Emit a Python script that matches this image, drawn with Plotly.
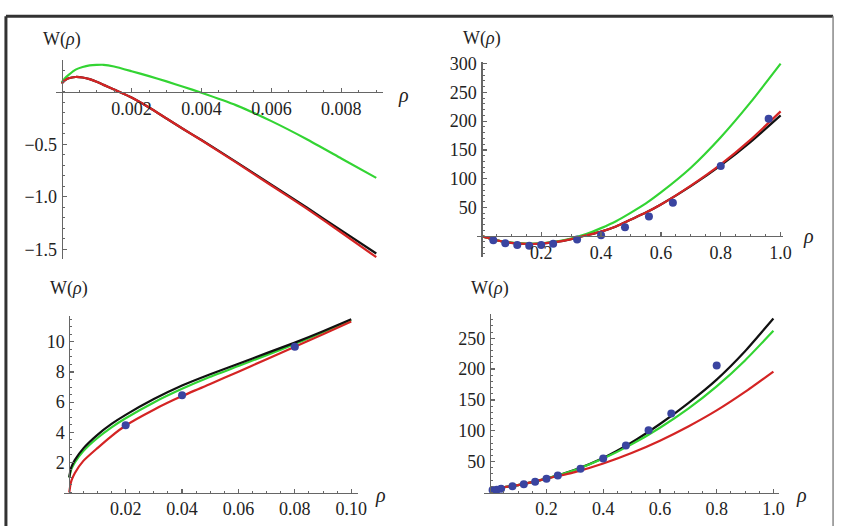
import plotly.graph_objects as go

# ---------------- data ----------------
# Panel 1 (top-left)
p1_rho = [0, 0.0001, 0.0002, 0.0004, 0.0006, 0.0008, 0.001, 0.0012, 0.0015, 0.002,
          0.0025, 0.003, 0.0035, 0.004, 0.005, 0.006, 0.007, 0.008, 0.009]
p1_black = [0.078, 0.11, 0.128, 0.14, 0.135, 0.12, 0.095, 0.065, 0.02, -0.055,
            -0.15, -0.255, -0.36, -0.46, -0.67, -0.885, -1.10, -1.32, -1.54]
p1_red = [0.078, 0.11, 0.128, 0.14, 0.135, 0.12, 0.095, 0.065, 0.02, -0.055,
          -0.15, -0.255, -0.36, -0.462, -0.675, -0.893, -1.11, -1.34, -1.575]
p1_green = [0.087, 0.13, 0.16, 0.21, 0.235, 0.25, 0.255, 0.256, 0.24, 0.195,
            0.148, 0.098, 0.045, -0.01, -0.13, -0.28, -0.45, -0.635, -0.82]

# Panel 2 (top-right)
p2_rho = [0, 0.05, 0.1, 0.15, 0.2, 0.25, 0.3, 0.35, 0.4, 0.45, 0.5, 0.55, 0.6,
          0.7, 0.8, 0.9, 1.0]
p2_black = [0, -7, -11.5, -13.5, -13, -10, -5, 1.5, 8, 17, 29, 41, 55,
            87, 123, 164, 210]
p2_red = [0, -7, -11.5, -13.5, -13, -10, -5, 1.5, 8, 17, 29, 41, 55,
          88, 125, 168, 217]
p2_green = [0, -7, -11, -13, -12.5, -9.5, -4, 3.5, 14, 26, 41, 57, 76,
            119, 172, 233, 300]
p2_pts_rho = [0.04, 0.08, 0.12, 0.16, 0.20, 0.24, 0.32, 0.40, 0.48, 0.56, 0.64, 0.80, 0.96]
p2_pts_w = [-7, -12.5, -15.4, -16.5, -15.4, -13, -5.7, 1.7, 15.4, 34.3, 58, 122, 204]

# Panel 3 (bottom-left)
p3_rho = [0, 0.0005, 0.001, 0.002, 0.005, 0.01, 0.015, 0.02, 0.03, 0.04, 0.05, 0.06,
          0.07, 0.08, 0.09, 0.1]
p3_black = [1.0, 1.55, 1.8, 2.17, 2.93, 3.83, 4.55, 5.15, 6.2, 7.1, 7.85, 8.55,
            9.25, 9.95, 10.7, 11.5]
p3_green = [1.0, 1.4, 1.65, 2.0, 2.75, 3.62, 4.33, 4.93, 5.98, 6.88, 7.68, 8.4,
            9.12, 9.85, 10.63, 11.45]
p3_red = [0.0, 0.6, 0.9, 1.3, 2.1, 2.95, 3.75, 4.45, 5.5, 6.4, 7.2, 8.02,
          8.85, 9.68, 10.5, 11.35]
p3_pts_rho = [0.02, 0.04, 0.08]
p3_pts_w = [4.46, 6.45, 9.67]

# Panel 4 (bottom-right)
p4_rho = [0, 0.1, 0.2, 0.3, 0.4, 0.5, 0.6, 0.7, 0.8, 0.9, 1.0]
p4_black = [5, 12, 22.5, 37, 56, 81, 111, 145, 183, 229, 282]
p4_green = [5, 12, 22.5, 36.5, 55, 78, 105, 136, 172, 214, 262]
p4_red = [5, 12, 22.5, 33, 47, 64, 84, 107, 133, 163, 196]
p4_pts_rho = [0.01, 0.025, 0.04, 0.08, 0.12, 0.16, 0.20, 0.24, 0.32, 0.40, 0.48, 0.56, 0.64, 0.80]
p4_pts_w = [4, 4.5, 6, 10, 13.5, 17.5, 22.5, 27.5, 38.5, 55, 76, 101, 128, 206]

# tick values
p1_xticks = [0.002, 0.004, 0.006, 0.008]
p1_yticks = [-1.5, -1.0, -0.5]
p2_xticks = [0.2, 0.4, 0.6, 0.8, 1.0]
p2_yticks = [50, 100, 150, 200, 250, 300]
p3_xticks = [0.02, 0.04, 0.06, 0.08, 0.10]
p3_yticks = [2, 4, 6, 8, 10]
p4_xticks = [0.2, 0.4, 0.6, 0.8, 1.0]
p4_yticks = [50, 100, 150, 200, 250]

# ---------------- styling / geometry ----------------
W, H = 848, 526
BLACK = "#111111"
GREEN = "#33d433"
RED = "#d42424"
BLUE = "#3a44a0"
AXIS = "#666666"
TXT = "#222222"
FONT = "Liberation Serif, Times New Roman, Times, serif"
FS = 18


def fx(px):
    return px / W


def fy(py):
    return 1 - py / H


panels = [
    dict(x0=62.3, xs=35333, xd=(57, 387), y0=85, ys=106.7, yd=(53, 255),
         xt=p1_xticks, yt=p1_yticks, xf=".3f", yf=".1f", xminor=0.0005, yminor=0.1,
         wlab=(63, 32), rlab=(408, 89)),
    dict(x0=486.5, xs=302.5, xd=(482, 791), y0=231.7, ys=0.584, yd=(55, 253),
         xt=p2_xticks, yt=p2_yticks, xf=".1f", yf="d", xminor=0.05, yminor=10,
         wlab=(487, 31), rlab=(817, 232)),
    dict(x0=70, xs=2850, xd=(65, 362), y0=492, ys=15.3, yd=(313, 493.5),
         xt=p3_xticks, yt=p3_yticks, xf=".2f", yf="d", xminor=0.005, yminor=0.5,
         wlab=(70, 285), rlab=(385, 495)),
    dict(x0=495, xs=286.7, xd=(489, 787), y0=492, ys=0.6267, yd=(311, 493.5),
         xt=p4_xticks, yt=p4_yticks, xf=".1f", yf="d", xminor=0.05, yminor=10,
         wlab=(495, 285), rlab=(810, 495)),
]

series = [
    (p1_rho, [(p1_black, BLACK), (p1_green, GREEN), (p1_red, RED)], None),
    (p2_rho, [(p2_black, BLACK), (p2_green, GREEN), (p2_red, RED)], (p2_pts_rho, p2_pts_w)),
    (p3_rho, [(p3_green, GREEN), (p3_black, BLACK), (p3_red, RED)], (p3_pts_rho, p3_pts_w)),
    (p4_rho, [(p4_black, BLACK), (p4_green, GREEN), (p4_red, RED)], (p4_pts_rho, p4_pts_w)),
]

fig = go.Figure()
layout = dict(
    width=W, height=H, margin=dict(l=0, r=0, t=0, b=0),
    paper_bgcolor="white", plot_bgcolor="white", showlegend=False,
    font=dict(family=FONT, size=FS, color=TXT),
)
annotations = []

for i, (p, (rho, curves, pts)) in enumerate(zip(panels, series), start=1):
    xa = "x" if i == 1 else f"x{i}"
    ya = "y" if i == 1 else f"y{i}"
    for vals, col in curves:
        fig.add_trace(go.Scatter(x=rho, y=vals, mode="lines", xaxis=xa, yaxis=ya,
                                 line=dict(color=col, width=2.2, shape="spline", smoothing=0.5),
                                 hoverinfo="skip"))
    if pts is not None:
        fig.add_trace(go.Scatter(x=pts[0], y=pts[1], mode="markers", xaxis=xa, yaxis=ya,
                                 marker=dict(color=BLUE, size=8), hoverinfo="skip"))

    xr = [(p["xd"][0] - p["x0"]) / p["xs"], (p["xd"][1] - p["x0"]) / p["xs"]]
    yr = [(p["y0"] - p["yd"][1]) / p["ys"], (p["y0"] - p["yd"][0]) / p["ys"]]

    xminor_vals = []
    v = p["xminor"]
    while v < xr[1]:
        xminor_vals.append(v)
        v += p["xminor"]
    yminor_vals = []
    v = 0.0
    while v > yr[0]:
        yminor_vals.append(v)
        v -= p["yminor"]
    v = p["yminor"]
    while v < yr[1]:
        yminor_vals.append(v)
        v += p["yminor"]

    layout["xaxis" if i == 1 else f"xaxis{i}"] = dict(
        domain=[fx(p["xd"][0]), fx(p["xd"][1])], range=xr,
        anchor="free", position=fy(p["y0"]),
        showgrid=False, zeroline=False, showline=True, linecolor=AXIS, linewidth=1.2,
        ticks="inside", ticklen=4, tickwidth=1.2, tickcolor=AXIS,
        tickmode="array", tickvals=p["xt"], tickformat=p["xf"],
        ticklabelstandoff=0,
        minor=dict(ticks="inside", ticklen=2, tickwidth=1, tickcolor=AXIS,
                   tickmode="array", tickvals=xminor_vals),
        tickfont=dict(family=FONT, size=FS, color=TXT), fixedrange=True,
    )
    layout["yaxis" if i == 1 else f"yaxis{i}"] = dict(
        domain=[fy(p["yd"][1]), fy(p["yd"][0])], range=yr,
        anchor="free", position=fx(p["x0"]),
        showgrid=False, zeroline=False, showline=True, linecolor=AXIS, linewidth=1.2,
        ticks="inside", ticklen=4, tickwidth=1.2, tickcolor=AXIS,
        tickmode="array", tickvals=p["yt"], tickformat=p["yf"],
        ticklabelstandoff=1,
        minor=dict(ticks="inside", ticklen=2, tickwidth=1, tickcolor=AXIS,
                   tickmode="array", tickvals=yminor_vals),
        tickfont=dict(family=FONT, size=FS, color=TXT), fixedrange=True,
    )
    annotations.append(dict(text="W(<i>ρ</i>)", x=fx(p["wlab"][0]), y=fy(p["wlab"][1]),
                            xref="paper", yref="paper", showarrow=False,
                            xanchor="center", yanchor="middle",
                            font=dict(family=FONT, size=FS, color=TXT)))
    annotations.append(dict(text="<i>ρ</i>", x=fx(p["rlab"][0]), y=fy(p["rlab"][1]),
                            xref="paper", yref="paper", showarrow=False,
                            xanchor="center", yanchor="middle",
                            font=dict(family=FONT, size=20, color=TXT)))

layout["annotations"] = annotations
layout["shapes"] = [
    dict(type="line", xref="paper", yref="paper", x0=fx(6), x1=fx(6), y0=fy(8.5), y1=fy(540),
         line=dict(color="#333333", width=3)),
    dict(type="line", xref="paper", yref="paper", x0=fx(6), x1=fx(842), y0=fy(8.5), y1=fy(8.5),
         line=dict(color="#333333", width=3)),
    dict(type="line", xref="paper", yref="paper", x0=fx(842), x1=fx(842), y0=fy(8.5), y1=fy(540),
         line=dict(color="#888888", width=1.5)),
]
fig.update_layout(**layout)
post = ("document.body.style.margin='0px';document.body.style.overflow='hidden';"
        "var d=document.getElementById('{plot_id}');"
        "d.style.position='absolute';d.style.left='0px';d.style.top='0px';")
fig.write_html("out.html", config={"displayModeBar": False, "staticPlot": True},
               post_script=post)
